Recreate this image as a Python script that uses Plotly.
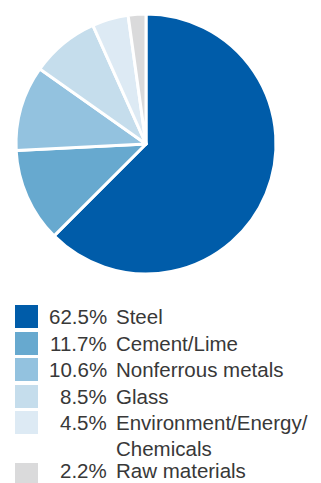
import plotly.graph_objects as go

categories = ["Steel", "Cement/Lime", "Nonferrous metals", "Glass",
              "Environment/Energy/<br>Chemicals", "Raw materials"]
shares = [62.5, 11.7, 10.6, 8.5, 4.5, 2.2]
pct_labels = ["62.5%", "11.7%", "10.6%", "8.5%", "4.5%", "2.2%"]
colors = ["#005CA9", "#67A9CF", "#93C2DF", "#C5DDEC", "#DDEAF4", "#DADADB"]

W, H = 321, 483

fig = go.Figure()
fig.add_trace(go.Pie(
    labels=categories, values=shares, sort=False, direction="clockwise",
    rotation=0, textinfo="none", hoverinfo="label+percent",
    marker=dict(colors=colors, line=dict(color="white", width=3)),
    domain=dict(x=[16 / W, 276 / W], y=[1 - 274 / H, 1 - 14 / H]),
    showlegend=False,
))

# custom legend
row_tops = [305, 332, 358, 385, 411, 463]
line_gap = 25.5
text_color = "#383838"
font_family = "Liberation Sans"
fsize = 20.5
font = dict(family=font_family, size=fsize, color=text_color)
shapes = []
annotations = []
last = len(categories) - 1
for i, (cat, pct, col) in enumerate(zip(categories, pct_labels, colors)):
    top = row_tops[i]
    shapes.append(dict(type="rect", xref="paper", yref="paper",
                       x0=15 / W, x1=38 / W, y0=1 - (top + 23) / H, y1=1 - top / H,
                       fillcolor=col, line=dict(width=0), layer="above"))
    yc = 1 - (top + 11.5) / H
    anchor = "middle"
    if i == last:
        yc, anchor = 0.0, "bottom"
    annotations.append(dict(text=pct, xref="paper", yref="paper", x=108 / W, y=yc,
                            xanchor="right", yanchor=anchor, showarrow=False,
                            borderpad=0, font=font))
    for k, line in enumerate(cat.split("<br>")):
        annotations.append(dict(text=line, xref="paper", yref="paper", x=115 / W,
                                y=yc - k * line_gap / H, xanchor="left",
                                yanchor=anchor, align="left", showarrow=False,
                                borderpad=0, font=font))

fig.update_layout(width=W, height=H, margin=dict(l=0, r=0, t=0, b=0),
                  paper_bgcolor="white", plot_bgcolor="white",
                  shapes=shapes, annotations=annotations)
fig.write_html("out.html")
